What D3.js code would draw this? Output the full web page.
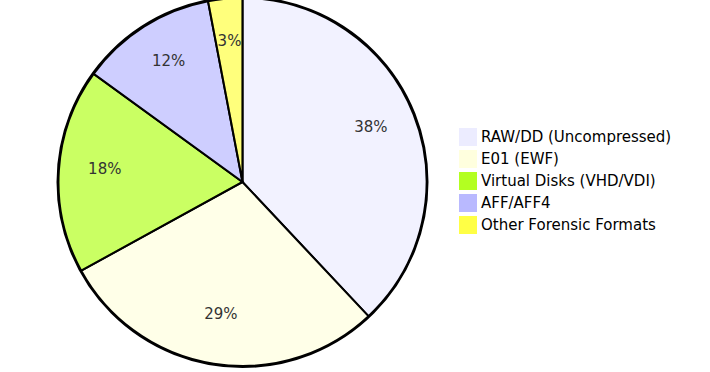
<!doctype html>
<html lang="en">
<head>
  <meta charset="utf-8">
  <title>Forensic image formats</title>
  <script src="https://cdn.jsdelivr.net/npm/d3@7"></script>
  <style>
    body { margin: 0; background: #fff; }
    text { font-family: "trebuchet ms", verdana, "DejaVu Sans", sans-serif; }
  </style>
</head>
<body>
<div id="chart"></div>

<script>
// data
const categories = ["RAW/DD (Uncompressed)", "E01 (EWF)", "Virtual Disks (VHD/VDI)", "AFF/AFF4", "Other Forensic Formats"]
const values = [38, 29, 18, 12, 3]
const colors = ["#ECECFF", "#FFFFDE", "#B3FF21", "#B9B9FF", "#FFFF45"]

const w = 710, h = 372
const cx = 242.5, cy = 182, radius = 184

const svg = d3.select("#chart").append("svg")
  .attr("width", w)
  .attr("height", h)

const g = svg.append("g").attr("transform", `translate(${cx},${cy})`)

const data = categories.map((c, i) => ({ name: c, value: values[i], color: colors[i] }))
const total = d3.sum(values)

const pie = d3.pie().value(d => d.value).sort(null)
const arc = d3.arc().innerRadius(0).outerRadius(radius)
const labelArc = d3.arc().innerRadius(radius * 0.75).outerRadius(radius * 0.75)

// outer ring
g.append("circle")
  .attr("r", radius + 1)
  .attr("fill", "none")
  .attr("stroke", "#000")
  .attr("stroke-width", 2)

const arcs = pie(data)

g.selectAll("path.slice")
  .data(arcs)
  .join("path")
    .attr("class", "slice")
    .attr("d", arc)
    .attr("fill", d => d.data.color)
    .attr("fill-opacity", 0.7)
    .attr("stroke", "#000")
    .attr("stroke-width", 2)

g.selectAll("text.label")
  .data(arcs)
  .join("text")
    .attr("class", "label")
    .attr("transform", d => `translate(${labelArc.centroid(d)})`)
    .attr("dy", 1)
    .attr("text-anchor", "middle")
    .attr("font-size", 15)
    .attr("fill", "#333")
    .text(d => Math.round(d.data.value / total * 100) + "%")

// legend
const legend = svg.append("g").attr("transform", "translate(459,128)")

const item = legend.selectAll("g")
  .data(data)
  .join("g")
    .attr("transform", (d, i) => `translate(0,${i * 22})`)

item.append("rect")
  .attr("width", 18)
  .attr("height", 18)
  .attr("fill", d => d.color)

item.append("text")
  .attr("x", 22)
  .attr("y", 14)
  .attr("font-size", 15)
  .attr("fill", "#000")
  .text(d => d.name)
</script>
</body>
</html>
